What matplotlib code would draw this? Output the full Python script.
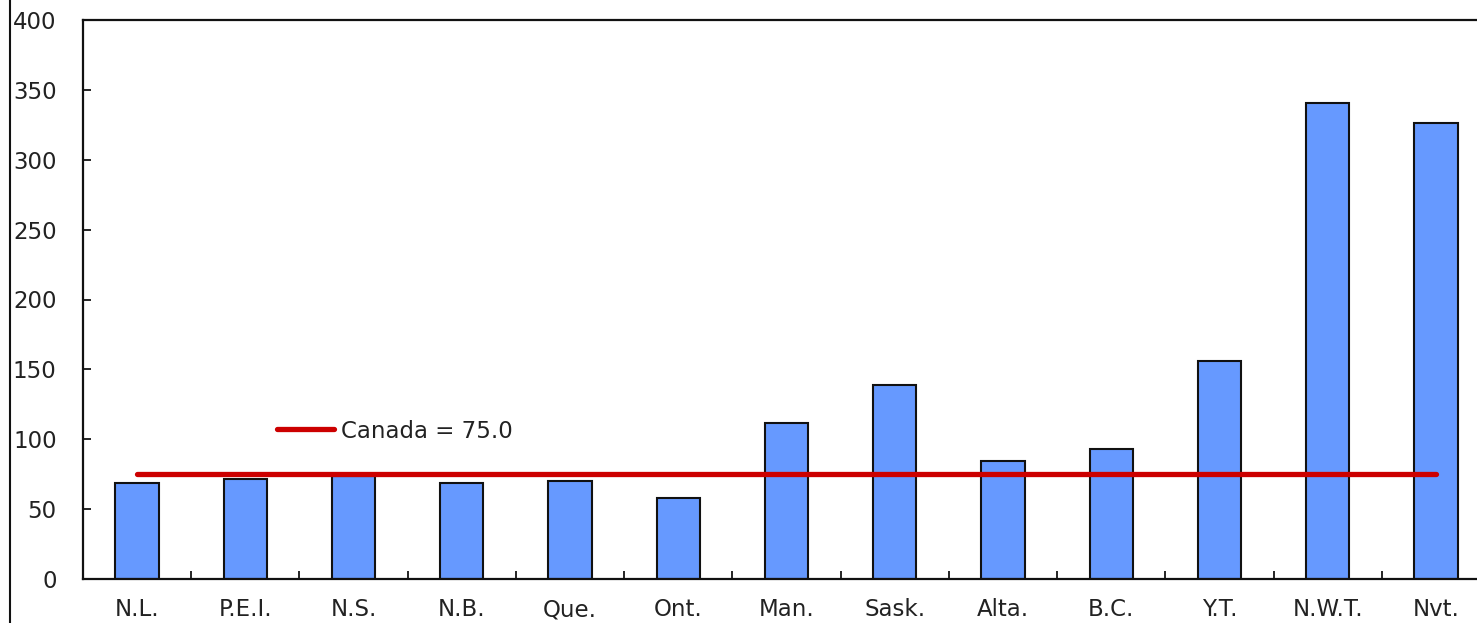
import matplotlib
matplotlib.use("Agg")
import matplotlib.pyplot as plt
from matplotlib.lines import Line2D
import numpy as np

categories = ["N.L.", "P.E.I.", "N.S.", "N.B.", "Que.", "Ont.", "Man.", "Sask.",
              "Alta.", "B.C.", "Y.T.", "N.W.T.", "Nvt."]
values = [68.5, 71.6, 74.0, 68.9, 70.4, 57.7, 111.6, 138.8, 84.7, 92.8, 156.2, 340.6, 326.0]
canada_value = 75.0
canada_label = "Canada = 75.0"
yticks = [0, 50, 100, 150, 200, 250, 300, 350, 400]

W, H = 1477, 623
fig = plt.figure(figsize=(W / 100, H / 100), dpi=100)
ax = fig.add_axes([83 / W, 1 - 579 / H, 1 - 83 / W, (579 - 20) / H])

x = np.arange(len(categories))
ax.bar(x, values, width=0.4, color="#6699FF", edgecolor="#111111", linewidth=1.5, zorder=2)
ax.plot([x[0], x[-1]], [canada_value, canada_value], color="#CC0000", linewidth=3.8,
        solid_capstyle="round", zorder=3, label=canada_label)

ax.set_yticks(yticks)
ax.set_xticks(x)
ax.set_xticklabels(categories)
ax.set_xticks(np.arange(len(categories)) + 0.5, minor=True)
ax.set_xlim(-0.5, 12.38)
ax.set_ylim(0, 400)

fs = 16.5
txtc = "#222222"
ax.tick_params(axis="y", direction="in", length=6, width=1.2, pad=19, labelsize=fs,
               labelcolor=txtc)
ax.tick_params(axis="x", which="major", length=0, pad=14, labelsize=fs, labelcolor=txtc)
ax.tick_params(axis="x", which="minor", direction="in", length=6, width=1.2)

for s in ["left", "bottom", "top"]:
    ax.spines[s].set_linewidth(1.6)
    ax.spines[s].set_color("#111111")
ax.spines["right"].set_visible(False)

leg = ax.legend(loc="center left", bbox_to_anchor=(277 / W, 1 - 431 / H),
                bbox_transform=fig.transFigure, frameon=False, fontsize=fs,
                handlelength=2.5, handletextpad=0.3, borderpad=0, borderaxespad=0)
for t in leg.get_texts():
    t.set_color(txtc)

fig.add_artist(Line2D([9.5 / W, 9.5 / W], [0, 1], transform=fig.transFigure,
                      color="#111111", linewidth=1.5))

fig.savefig("out.png", dpi=100)
